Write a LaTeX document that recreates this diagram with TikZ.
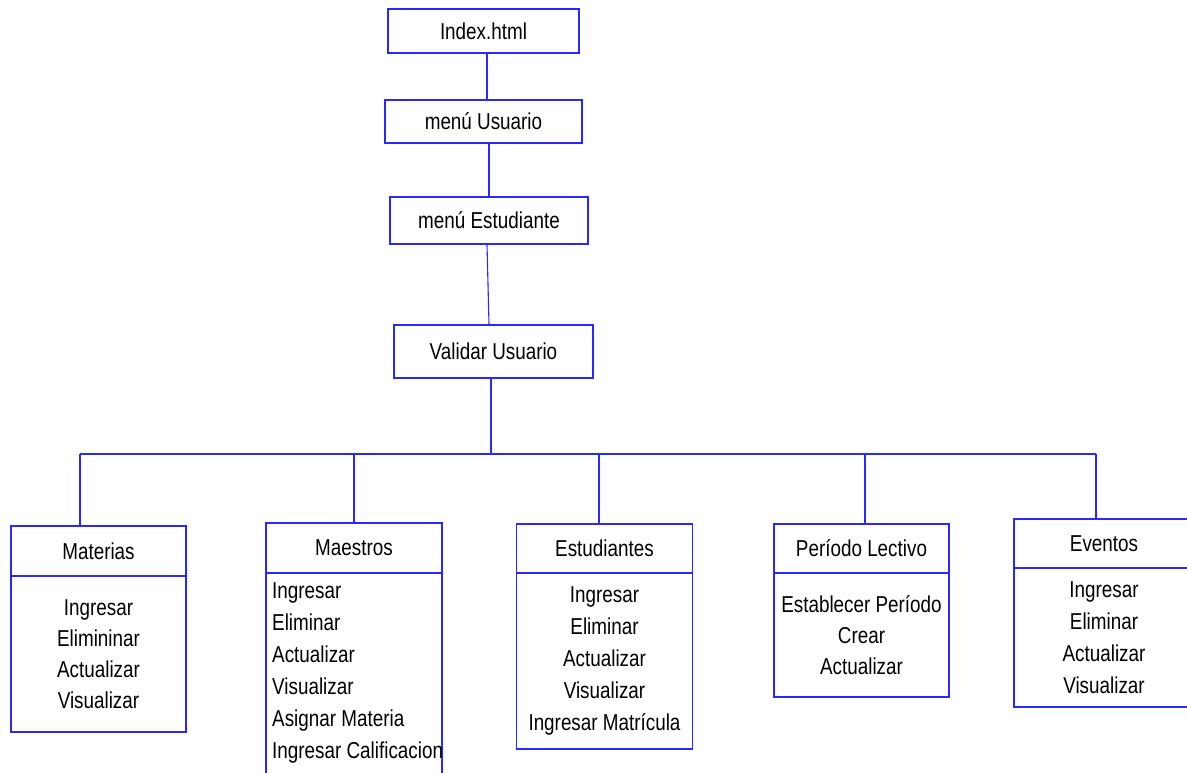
\documentclass[tikz,border=0pt]{standalone}
\usepackage{fontspec}
\setmainfont[FakeStretch=0.82]{Liberation Sans}
\begin{document}
\definecolor{lineblue}{RGB}{40,40,255}
\begin{tikzpicture}[x=1pt,y=-1pt,
  box/.style={draw=lineblue,line width=1.3pt,rectangle,inner sep=0pt,
    font=\fontsize{23}{31}\selectfont,text=black},
  link/.style={draw=lineblue,line width=1.1pt}]
\clip (0,0) rectangle (1187,772);
\fill[white] (0,0) rectangle (1187,772);

% upper chain
\node[box,minimum width=191pt,minimum height=44pt] (idx) at (483.5,31) {Index.html};
\node[box,minimum width=197pt,minimum height=43pt] (mu) at (483.5,121.5) {menú Usuario};
\node[box,minimum width=198pt,minimum height=47pt] (me) at (489,220.5) {menú Estudiante};
\node[box,minimum width=199pt,minimum height=53pt] (vu) at (493.5,351.5) {Validar Usuario};

\draw[link] ([xshift=3.5pt]idx.south) -- ([xshift=3.5pt]mu.north);
\draw[link] ([xshift=5.5pt]mu.south) -- ([xshift=0pt]me.north);
\draw[link] ([xshift=-2pt]me.south) -- ([xshift=-4.5pt]vu.north);

% distribution bar
\coordinate (dMat) at (80,454);
\coordinate (dMae) at (354,454);
\coordinate (dEst) at (599,454);
\coordinate (dPer) at (865,454);
\coordinate (dEve) at (1096,454);
\draw[link] (dMat) -- (dEve);
\draw[link] ([xshift=-2.5pt]vu.south) -- ([xshift=-2.5pt]vu.south |- dMat);

% Materias
\node[box,minimum width=175pt,minimum height=50pt] (matH) at (98.5,551) {Materias};
\node[box,minimum width=175pt,minimum height=156pt,align=center] (matB) at (98.5,654)
  {Ingresar\\Elimininar\\Actualizar\\Visualizar};

% Maestros (body runs past the lower edge)
\node[box,minimum width=176pt,minimum height=50pt] (maeH) at (354,548) {Maestros};
\node[box,minimum width=176pt,minimum height=240pt] (maeB) at (354,693) {};
\begin{scope}
  \clip (266,573) rectangle (441.5,772);
  \node[font=\fontsize{23}{32}\selectfont,align=left,anchor=north west,inner sep=0pt]
    (maeT) at (272,582) {Ingresar\\Eliminar\\Actualizar\\Visualizar\\Asignar Materia\\Ingresar Calificacion};
\end{scope}

% Estudiantes
\node[box,minimum width=176pt,minimum height=49pt] (estH) at (604.5,548.5) {Estudiantes};
\node[box,minimum width=176pt,minimum height=176pt,align=center,
  font=\fontsize{23}{32}\selectfont] (estB) at (604.5,661)
  {Ingresar\\Eliminar\\Actualizar\\Visualizar\\Ingresar Matrícula};

% Periodo Lectivo
\node[box,minimum width=175pt,minimum height=49pt] (perH) at (861.5,548.5) {Período Lectivo};
\node[box,minimum width=175pt,minimum height=124pt,align=center,
  font=\fontsize{23}{31}\selectfont] (perB) at (861.5,635)
  {Establecer Período\\Crear\\Actualizar};

% Eventos (right side runs past the edge)
\node[box,minimum width=180pt,minimum height=49pt] (eveH) at (1104,543.5) {Eventos};
\node[box,minimum width=180pt,minimum height=139pt,align=center,
  font=\fontsize{23}{32}\selectfont] (eveB) at (1104,637.5)
  {Ingresar\\Eliminar\\Actualizar\\Visualizar};

% drops from the bar
\draw[link] (dMat) -- (dMat |- matH.north);
\draw[link] (dMae) -- (dMae |- maeH.north);
\draw[link] (dEst) -- (dEst |- estH.north);
\draw[link] (dPer) -- (dPer |- perH.north);
\draw[link] (dEve) -- (dEve |- eveH.north);
\end{tikzpicture}
\end{document}
